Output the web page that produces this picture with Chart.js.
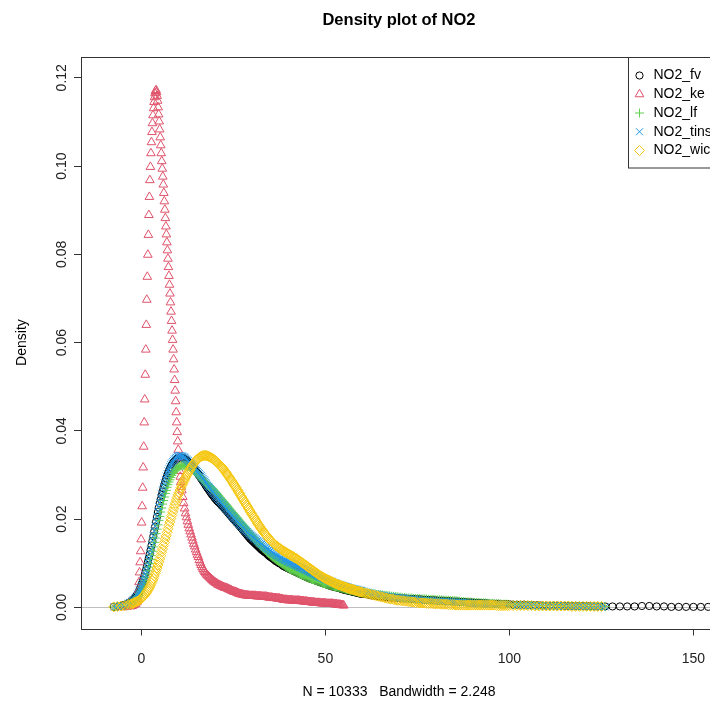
<!DOCTYPE html>
<html><head><meta charset="utf-8">
<script src="https://cdn.jsdelivr.net/npm/chart.js@4/dist/chart.umd.min.js"></script>
<style>
html,body{margin:0;padding:0;background:#fff;overflow:hidden}
#wrap{width:710px;height:704px;overflow:hidden;position:relative;background:#fff}
canvas{display:block}
</style></head>
<body><div id="wrap"><canvas id="c" width="724" height="704" style="width:724px;height:704px"></canvas></div>
<script>
const FONT = '"Liberation Sans", Arial, Helvetica, sans-serif';

const chartTitle = 'Density plot of NO2';
const xAxisTitle = 'N = 10333   Bandwidth = 2.248';
const yAxisTitle = 'Density';
const seriesNames = ['NO2_fv', 'NO2_ke', 'NO2_lf', 'NO2_tins', 'NO2_wic'];

const xTicks = [0, 50, 100, 150];
const xTickLabels = ['0', '50', '100', '150'];
const yTicks = [0, 0.02, 0.04, 0.06, 0.08, 0.10, 0.12];
const yTickLabels = ['0.00', '0.02', '0.04', '0.06', '0.08', '0.10', '0.12'];

// shared evaluation grid for NO2_fv, NO2_lf, NO2_tins, NO2_wic
const xGrid = [
 -9.5,-8.5,-7.5,-6.5,-5.5,-4.5,-3.5,-3,
 -2.5,-2.25,-2,-1.75,-1.5,-1.25,-1,-0.75,-0.5,-0.25,
 0,0.25,0.5,0.75,1,1.25,1.5,1.75,2,2.25,
 2.5,2.75,3,3.25,3.5,3.75,4,4.25,4.5,4.75,
 5,5.25,5.5,5.75,6,6.25,6.5,6.75,7,7.25,
 7.5,7.75,8,8.25,8.5,8.75,9,9.25,9.5,9.75,
 10,10.25,10.5,10.75,11,11.25,11.5,11.75,12,12.25,
 12.5,12.75,13,13.25,13.5,13.75,14,14.25,14.5,14.75,
 15,15.25,15.5,15.75,16,16.25,16.5,16.75,17,17.25,
 17.5,17.75,18,18.25,18.5,18.75,19,19.25,19.5,19.75,
 20,
 20.25,20.5,20.75,21,21.25,21.5,21.75,22,
 22.25,22.5,22.75,23,23.25,23.5,23.75,24,
 24.25,24.5,24.75,25,25.25,25.5,25.75,26,
 26.25,26.5,26.75,27,27.25,27.5,27.75,28,
 28.25,28.5,28.75,29,29.25,29.5,29.75,30,
 30.25,30.5,30.75,31,31.25,31.5,31.75,32,
 32.25,32.5,32.75,33,33.25,33.5,33.75,34,
 34.25,34.5,34.75,35,35.25,35.5,35.75,36,
 36.25,36.5,36.75,37,37.25,37.5,37.75,38,
 38.25,38.5,38.75,39,39.25,39.5,39.75,40,
 40.25,40.5,40.75,41,41.25,41.5,41.75,42,
 42.25,42.5,42.75,43,43.25,43.5,43.75,44,
 44.25,44.5,44.75,45,45.25,45.5,45.75,46,
 46.25,46.5,46.75,47,47.25,47.5,47.75,48,
 48.25,48.5,48.75,49,49.25,49.5,49.75,50,
 50.25,50.5,50.75,51,51.25,51.5,51.75,52,
 52.25,52.5,52.75,53,53.25,53.5,53.75,54,
 54.25,54.5,54.75,55,55.25,55.5,55.75,56,
 56.25,56.5,56.75,57,57.25,57.5,57.75,58,
 58.25,58.5,58.75,59,59.25,59.5,59.75,60,
 60.5,61,61.5,62,62.5,63,63.5,64,64.5,65,
 65.5,66,66.5,67,67.5,68,68.5,69,69.5,70,
 70.5,71,71.5,72,72.5,73,73.5,74,74.5,75,
 75.5,76,76.5,77,77.5,78,78.5,79,79.5,80,
 80.5,81,81.5,82,82.5,83,83.5,84,84.5,85,
 85.5,86,86.5,87,87.5,88,88.5,89,89.5,90,
 90.5,91,91.5,92,92.5,93,93.5,94,94.5,95,
 95.5,96,96.5,97,97.5,98,98.5,99,99.5,100,
 101,102,103,104,105,106,107,108,109,110,
 111,112,113,114,115,116,117,118,119,120,
 121,122,123,124,125,126,
 128,130,132,134,136,138,140,142,144,146,148,150,152,154,156
];

const fv = [
 null,null,0.0001,0.0002,0.0004,0.0006,0.0010,0.0012,
 0.0015,0.0017,0.0019,0.0021,0.0024,0.0027,0.0031,0.0035,0.0040,0.0045,
 0.0051,0.0056,0.0062,0.0069,0.0076,0.0084,0.0093,0.0102,0.0111,0.0120,
 0.0130,0.0140,0.0150,0.0161,0.0172,0.0183,0.0194,0.0205,0.0216,0.0226,
 0.0236,0.0245,0.0254,0.0262,0.0270,0.0278,0.0285,0.0292,0.0298,0.0304,
 0.0309,0.0314,0.0318,0.0322,0.0325,0.0328,0.0331,0.0333,0.0335,0.0337,
 0.0338,0.0339,0.0339,0.0339,0.0339,0.0339,0.0338,0.0337,0.0335,0.0334,
 0.0332,0.0330,0.0328,0.0326,0.0323,0.0321,0.0318,0.0315,0.0312,0.0310,
 0.0307,0.0304,0.0301,0.0298,0.0295,0.0292,0.0289,0.0286,0.0283,0.0280,
 0.0276,0.0273,0.0270,0.0267,0.0264,0.0261,0.0258,0.0255,0.0253,0.0250,
 0.0247,
 0.0245,0.0242,0.0240,0.0238,0.0236,0.0234,0.0231,0.0229,
 0.0227,0.0225,0.0222,0.0220,0.0218,0.0215,0.0213,0.0210,
 0.0208,0.0205,0.0203,0.0200,0.0198,0.0196,0.0193,0.0191,
 0.0189,0.0186,0.0184,0.0181,0.0179,0.0176,0.0174,0.0171,
 0.0169,0.0166,0.0164,0.0161,0.0159,0.0156,0.0154,0.0152,
 0.0150,0.0148,0.0146,0.0144,0.0142,0.0140,0.0138,0.0136,
 0.0134,0.0132,0.0130,0.0129,0.0127,0.0125,0.0124,0.0122,
 0.0120,0.0118,0.0116,0.0115,0.0113,0.0112,0.0110,0.0109,
 0.0107,0.0105,0.0104,0.0103,0.0101,0.0100,0.0099,0.0098,
 0.0096,0.0094,0.0093,0.0092,0.0091,0.0090,0.0089,0.0088,
 0.0087,0.0086,0.0085,0.0084,0.0083,0.0082,0.0081,0.0080,
 0.0079,0.0078,0.0077,0.0076,0.0075,0.0074,0.0073,0.0072,
 0.0071,0.0070,0.0069,0.0068,0.0067,0.0066,0.0066,0.0065,
 0.0064,0.0063,0.0063,0.0062,0.0061,0.0060,0.0060,0.0059,
 0.0058,0.0057,0.0057,0.0056,0.0055,0.0054,0.0054,0.0053,
 0.0052,0.0051,0.0051,0.0050,0.0049,0.0048,0.0048,0.0047,
 0.0047,0.0046,0.0046,0.0045,0.0045,0.0044,0.0044,0.0043,
 0.0042,0.0041,0.0041,0.0040,0.0040,0.0039,0.0039,0.0038,
 0.0038,0.0037,0.0037,0.0036,0.0036,0.0035,0.0035,0.0034,
 0.0034,0.0033,0.0033,0.0032,0.0032,0.0031,0.0031,0.0031,
 0.0030,0.0030,0.0029,0.0028,0.0027,0.0027,0.0026,0.0026,0.0025,0.0025,
 0.0024,0.0024,0.0023,0.0023,0.0022,0.0022,0.0022,0.0022,0.0021,0.0021,
 0.0020,0.0020,0.0020,0.0020,0.0019,0.0019,0.0019,0.0019,0.0018,0.0018,
 0.0018,0.0018,0.0017,0.0017,0.0017,0.0017,0.0016,0.0016,0.0016,0.0016,
 0.0015,0.0015,0.0015,0.0015,0.0014,0.0014,0.0014,0.0014,0.0013,0.0013,
 0.0013,0.0013,0.0012,0.0012,0.0012,0.0012,0.0011,0.0011,0.0011,0.0011,
 0.0010,0.0010,0.0010,0.0010,0.0009,0.0009,0.0009,0.0009,0.0008,0.0008,
 0.0008,0.0008,0.0008,0.0008,0.0007,0.0007,0.0007,0.0007,0.0007,0.0007,
 0.0006,0.0006,0.0006,0.0006,0.0005,0.0005,0.0005,0.0005,0.0004,0.0004,
 0.0004,0.0004,0.0004,0.0004,0.0003,0.0003,0.0003,0.0003,0.0003,0.0003,
 0.0003,0.0003,0.0002,0.0002,0.0002,0.0002,
 0.0002,0.0002,0.0002,0.0002,0.0003,0.0003,0.0002,0.0002,0.0001,0.0001,0.0001,0.0001,0.0001,0.0001,0.0001
];

const lf = [
 null,null,0.0001,0.0002,0.0003,0.0005,0.0008,0.0010,
 0.0012,0.0013,0.0015,0.0017,0.0019,0.0021,0.0024,0.0027,0.0031,0.0035,
 0.0039,0.0044,0.0049,0.0055,0.0061,0.0068,0.0075,0.0083,0.0091,0.0099,
 0.0108,0.0117,0.0127,0.0137,0.0147,0.0157,0.0167,0.0177,0.0187,0.0197,
 0.0206,0.0216,0.0225,0.0234,0.0242,0.0250,0.0258,0.0265,0.0272,0.0278,
 0.0284,0.0289,0.0294,0.0299,0.0303,0.0306,0.0309,0.0312,0.0314,0.0316,
 0.0318,0.0319,0.0320,0.0321,0.0322,0.0322,0.0322,0.0322,0.0322,0.0321,
 0.0320,0.0319,0.0318,0.0317,0.0315,0.0314,0.0312,0.0310,0.0308,0.0306,
 0.0304,0.0302,0.0300,0.0298,0.0296,0.0293,0.0291,0.0289,0.0287,0.0285,
 0.0282,0.0280,0.0277,0.0276,0.0274,0.0273,0.0271,0.0269,0.0267,0.0264,
 0.0262,
 0.0260,0.0258,0.0255,0.0253,0.0250,0.0248,0.0245,0.0243,
 0.0240,0.0238,0.0235,0.0233,0.0230,0.0228,0.0225,0.0223,
 0.0220,0.0218,0.0215,0.0213,0.0210,0.0208,0.0205,0.0203,
 0.0200,0.0198,0.0195,0.0193,0.0190,0.0188,0.0185,0.0183,
 0.0180,0.0178,0.0175,0.0173,0.0170,0.0168,0.0165,0.0163,
 0.0160,0.0158,0.0155,0.0153,0.0150,0.0148,0.0146,0.0144,
 0.0141,0.0139,0.0137,0.0135,0.0133,0.0131,0.0129,0.0127,
 0.0125,0.0123,0.0121,0.0119,0.0117,0.0115,0.0113,0.0112,
 0.0110,0.0109,0.0107,0.0106,0.0104,0.0103,0.0101,0.0100,
 0.0098,0.0097,0.0095,0.0094,0.0092,0.0091,0.0090,0.0089,
 0.0087,0.0086,0.0085,0.0084,0.0083,0.0082,0.0081,0.0080,
 0.0079,0.0078,0.0077,0.0076,0.0075,0.0074,0.0073,0.0072,
 0.0071,0.0070,0.0069,0.0068,0.0067,0.0066,0.0066,0.0065,
 0.0064,0.0063,0.0063,0.0062,0.0061,0.0060,0.0060,0.0059,
 0.0058,0.0057,0.0057,0.0056,0.0055,0.0054,0.0054,0.0053,
 0.0052,0.0051,0.0051,0.0050,0.0050,0.0049,0.0049,0.0048,
 0.0048,0.0047,0.0047,0.0046,0.0046,0.0045,0.0045,0.0044,
 0.0044,0.0043,0.0043,0.0042,0.0042,0.0041,0.0041,0.0040,
 0.0040,0.0039,0.0039,0.0038,0.0038,0.0037,0.0037,0.0036,
 0.0036,0.0035,0.0035,0.0035,0.0034,0.0034,0.0034,0.0033,
 0.0033,0.0032,0.0032,0.0031,0.0031,0.0030,0.0030,0.0029,0.0029,0.0028,
 0.0028,0.0027,0.0027,0.0026,0.0026,0.0025,0.0025,0.0024,0.0024,0.0023,
 0.0023,0.0022,0.0022,0.0021,0.0021,0.0021,0.0021,0.0020,0.0020,0.0020,
 0.0020,0.0019,0.0019,0.0019,0.0019,0.0018,0.0018,0.0018,0.0018,0.0017,
 0.0017,0.0017,0.0017,0.0016,0.0016,0.0016,0.0016,0.0015,0.0015,0.0015,
 0.0015,0.0014,0.0014,0.0013,0.0013,0.0012,0.0012,0.0012,0.0012,0.0011,
 0.0011,0.0011,0.0011,0.0010,0.0010,0.0010,0.0010,0.0009,0.0009,0.0009,
 0.0009,0.0008,0.0008,0.0008,0.0008,0.0007,0.0007,0.0007,0.0007,0.0006,
 0.0006,0.0006,0.0005,0.0005,0.0005,0.0005,0.0004,0.0004,0.0004,0.0004,
 0.0004,0.0004,0.0003,0.0003,0.0003,0.0003,0.0003,0.0003,0.0003,0.0003,
 0.0002,0.0002,0.0002,0.0002,0.0002,0.0002,
 null,null,null,null,null,null,null,null,null,null,null,null,null,null,null
];

const tins = [
 null,null,0.0001,0.0002,0.0003,0.0005,0.0009,0.0011,
 0.0014,0.0016,0.0018,0.0020,0.0023,0.0026,0.0030,0.0034,0.0039,0.0044,
 0.0049,0.0055,0.0061,0.0068,0.0075,0.0083,0.0092,0.0101,0.0110,0.0120,
 0.0130,0.0140,0.0151,0.0162,0.0173,0.0184,0.0195,0.0206,0.0217,0.0228,
 0.0238,0.0248,0.0257,0.0266,0.0274,0.0282,0.0290,0.0297,0.0303,0.0309,
 0.0314,0.0319,0.0323,0.0327,0.0330,0.0333,0.0336,0.0338,0.0340,0.0342,
 0.0343,0.0344,0.0344,0.0344,0.0343,0.0342,0.0341,0.0340,0.0338,0.0336,
 0.0334,0.0332,0.0330,0.0328,0.0325,0.0323,0.0320,0.0318,0.0315,0.0313,
 0.0310,0.0308,0.0305,0.0303,0.0300,0.0298,0.0295,0.0292,0.0289,0.0286,
 0.0283,0.0280,0.0277,0.0274,0.0272,0.0269,0.0266,0.0263,0.0261,0.0258,
 0.0255,
 0.0252,0.0250,0.0247,0.0244,0.0242,0.0239,0.0237,0.0234,
 0.0232,0.0229,0.0227,0.0224,0.0222,0.0219,0.0217,0.0214,
 0.0212,0.0209,0.0207,0.0204,0.0202,0.0200,0.0197,0.0195,
 0.0193,0.0190,0.0188,0.0186,0.0184,0.0181,0.0179,0.0177,
 0.0175,0.0173,0.0171,0.0169,0.0167,0.0165,0.0164,0.0162,
 0.0160,0.0158,0.0157,0.0155,0.0153,0.0151,0.0150,0.0148,
 0.0146,0.0144,0.0143,0.0141,0.0139,0.0137,0.0136,0.0134,
 0.0133,0.0131,0.0130,0.0128,0.0127,0.0125,0.0124,0.0122,
 0.0121,0.0119,0.0118,0.0117,0.0116,0.0114,0.0113,0.0112,
 0.0111,0.0109,0.0108,0.0107,0.0106,0.0105,0.0104,0.0103,
 0.0102,0.0101,0.0100,0.0099,0.0098,0.0097,0.0096,0.0095,
 0.0094,0.0093,0.0092,0.0091,0.0090,0.0089,0.0088,0.0087,
 0.0086,0.0085,0.0084,0.0083,0.0082,0.0081,0.0080,0.0079,
 0.0078,0.0077,0.0076,0.0075,0.0074,0.0073,0.0072,0.0071,
 0.0070,0.0069,0.0068,0.0067,0.0066,0.0065,0.0065,0.0064,
 0.0063,0.0062,0.0061,0.0060,0.0059,0.0058,0.0058,0.0057,
 0.0056,0.0055,0.0055,0.0054,0.0053,0.0052,0.0052,0.0051,
 0.0050,0.0049,0.0049,0.0048,0.0048,0.0047,0.0047,0.0046,
 0.0045,0.0044,0.0044,0.0043,0.0043,0.0042,0.0042,0.0041,
 0.0041,0.0040,0.0040,0.0039,0.0039,0.0038,0.0038,0.0037,
 0.0036,0.0035,0.0034,0.0033,0.0032,0.0031,0.0030,0.0030,0.0029,0.0028,
 0.0027,0.0027,0.0026,0.0025,0.0024,0.0024,0.0023,0.0023,0.0022,0.0022,
 0.0021,0.0021,0.0020,0.0020,0.0019,0.0019,0.0018,0.0018,0.0017,0.0017,
 0.0016,0.0016,0.0016,0.0016,0.0015,0.0015,0.0015,0.0015,0.0014,0.0014,
 0.0014,0.0014,0.0013,0.0013,0.0013,0.0013,0.0012,0.0012,0.0012,0.0012,
 0.0011,0.0011,0.0011,0.0011,0.0010,0.0010,0.0010,0.0010,0.0009,0.0009,
 0.0009,0.0009,0.0008,0.0008,0.0008,0.0008,0.0008,0.0008,0.0007,0.0007,
 0.0007,0.0007,0.0007,0.0007,0.0006,0.0006,0.0006,0.0006,0.0006,0.0006,
 0.0006,0.0005,0.0005,0.0005,0.0005,0.0004,0.0004,0.0004,0.0004,0.0004,
 0.0003,0.0003,0.0003,0.0003,0.0003,0.0003,0.0002,0.0002,0.0002,0.0002,
 0.0002,0.0002,0.0002,0.0002,0.0001,0.0001,
 null,null,null,null,null,null,null,null,null,null,null,null,null,null,null
];

const wic = [
 null,null,0.0001,0.0002,0.0003,0.0004,0.0006,0.0007,
 0.0008,0.0009,0.0010,0.0011,0.0012,0.0013,0.0014,0.0015,0.0017,0.0018,
 0.0020,0.0022,0.0024,0.0026,0.0029,0.0032,0.0035,0.0038,0.0042,0.0046,
 0.0050,0.0055,0.0060,0.0065,0.0071,0.0077,0.0083,0.0089,0.0096,0.0103,
 0.0110,0.0117,0.0125,0.0132,0.0140,0.0147,0.0155,0.0162,0.0170,0.0178,
 0.0186,0.0193,0.0201,0.0208,0.0216,0.0223,0.0230,0.0236,0.0243,0.0249,
 0.0255,0.0260,0.0266,0.0271,0.0276,0.0280,0.0285,0.0289,0.0294,0.0298,
 0.0302,0.0306,0.0310,0.0313,0.0317,0.0320,0.0323,0.0326,0.0329,0.0331,
 0.0334,0.0336,0.0338,0.0339,0.0341,0.0342,0.0343,0.0344,0.0344,0.0344,
 0.0344,0.0344,0.0343,0.0342,0.0341,0.0340,0.0339,0.0338,0.0336,0.0335,
 0.0333,
 0.0331,0.0329,0.0327,0.0325,0.0323,0.0321,0.0319,0.0316,
 0.0314,0.0311,0.0308,0.0305,0.0302,0.0299,0.0296,0.0293,
 0.0290,0.0287,0.0284,0.0280,0.0277,0.0274,0.0271,0.0267,
 0.0264,0.0260,0.0257,0.0253,0.0250,0.0246,0.0243,0.0239,
 0.0236,0.0232,0.0229,0.0225,0.0222,0.0218,0.0215,0.0211,
 0.0208,0.0205,0.0202,0.0198,0.0195,0.0191,0.0188,0.0185,
 0.0182,0.0179,0.0176,0.0173,0.0170,0.0167,0.0165,0.0162,
 0.0160,0.0157,0.0155,0.0152,0.0150,0.0148,0.0146,0.0144,
 0.0142,0.0140,0.0139,0.0137,0.0136,0.0134,0.0133,0.0131,
 0.0130,0.0128,0.0127,0.0126,0.0125,0.0123,0.0122,0.0121,
 0.0120,0.0118,0.0117,0.0116,0.0115,0.0113,0.0112,0.0111,
 0.0110,0.0108,0.0107,0.0105,0.0104,0.0102,0.0101,0.0099,
 0.0098,0.0096,0.0095,0.0093,0.0092,0.0090,0.0089,0.0087,
 0.0086,0.0084,0.0083,0.0081,0.0080,0.0078,0.0077,0.0075,
 0.0074,0.0072,0.0071,0.0070,0.0069,0.0067,0.0066,0.0065,
 0.0064,0.0063,0.0062,0.0061,0.0060,0.0059,0.0058,0.0057,
 0.0056,0.0055,0.0054,0.0053,0.0052,0.0051,0.0051,0.0050,
 0.0049,0.0048,0.0048,0.0047,0.0046,0.0045,0.0045,0.0044,
 0.0043,0.0042,0.0042,0.0041,0.0041,0.0040,0.0040,0.0039,
 0.0038,0.0037,0.0037,0.0036,0.0036,0.0035,0.0035,0.0034,
 0.0033,0.0032,0.0031,0.0030,0.0029,0.0028,0.0027,0.0026,0.0025,0.0024,
 0.0023,0.0022,0.0021,0.0020,0.0019,0.0019,0.0018,0.0017,0.0016,0.0016,
 0.0015,0.0015,0.0014,0.0014,0.0013,0.0013,0.0012,0.0012,0.0011,0.0011,
 0.0010,0.0010,0.0010,0.0010,0.0009,0.0009,0.0009,0.0009,0.0008,0.0008,
 0.0008,0.0008,0.0007,0.0007,0.0007,0.0007,0.0006,0.0006,0.0006,0.0006,
 0.0005,0.0005,0.0005,0.0005,0.0005,0.0005,0.0005,0.0005,0.0005,0.0005,
 0.0005,0.0005,0.0005,0.0005,0.0005,0.0005,0.0005,0.0005,0.0005,0.0005,
 0.0005,0.0005,0.0004,0.0004,0.0004,0.0004,0.0004,0.0004,0.0004,0.0004,
 0.0004,0.0004,0.0004,0.0004,0.0004,0.0004,0.0003,0.0003,0.0003,0.0003,
 0.0003,0.0003,0.0003,0.0003,0.0003,0.0003,0.0002,0.0002,0.0002,0.0002,
 0.0002,0.0002,0.0002,0.0002,0.0002,null,
 null,null,null,null,null,null,null,null,null,null,null,null,null,null,null
];

// NO2_ke has its own, much narrower grid
const keX = [
 -5,-4,-3,-2.5,-2,-1.5,-1.2,
 -0.90,-0.76,-0.62,-0.48,-0.34,-0.20,-0.06,0.08,0.22,0.36,
 0.50,0.64,0.78,0.92,1.06,1.20,1.34,1.48,1.62,1.76,
 1.90,2.04,2.18,2.32,2.46,2.60,2.74,2.88,3.02,3.16,
 3.30,3.44,3.58,3.72,3.86,
 4.00,4.14,4.28,4.42,4.56,4.70,4.84,4.98,5.12,5.26,
 5.40,5.54,5.68,5.82,5.96,6.10,6.24,6.38,6.52,6.66,
 6.80,6.94,7.08,7.22,7.36,7.50,7.64,7.78,7.92,8.06,
 8.20,8.34,8.48,8.62,8.76,8.90,9.04,9.18,9.32,9.46,
 9.60,9.74,9.88,10.02,10.16,10.30,10.44,10.58,10.72,10.86,
 11,11.25,11.5,11.75,12,12.25,12.5,12.75,13,13.25,
 13.5,13.75,14,14.25,14.5,14.75,15,15.25,15.5,15.75,
 16,16.25,16.5,16.75,17,17.25,17.5,17.75,18,18.25,
 18.5,18.75,19,19.25,19.5,19.75,20,
 20.25,20.5,20.75,21,21.25,21.5,21.75,22,
 22.25,22.5,22.75,23,23.25,23.5,23.75,24,
 24.25,24.5,24.75,25,25.25,25.5,25.75,26,
 26.25,26.5,26.75,27,27.25,27.5,27.75,28,
 28.25,28.5,28.75,29,29.25,29.5,29.75,30,
 30.25,30.5,30.75,31,31.25,31.5,31.75,32,
 32.25,32.5,32.75,33,33.25,33.5,33.75,34,
 34.25,34.5,34.75,35,35.25,35.5,35.75,36,
 36.25,36.5,36.75,37,37.25,37.5,37.75,38,
 38.25,38.5,38.75,39,39.25,39.5,39.75,40,
 40.25,40.5,40.75,41,41.25,41.5,41.75,42,
 42.25,42.5,42.75,43,43.25,43.5,43.75,44,
 44.25,44.5,44.75,45,45.25,45.5,45.75,46,
 46.25,46.5,46.75,47,47.25,47.5,47.75,48,
 48.25,48.5,48.75,49,49.25,49.5,49.75,50,
 50.25,50.5,50.75,51,51.25,51.5,51.75,52,
 52.25,52.5,52.75,53,53.25,53.5,53.75,54,
 54.25,54.5,54.75,55
];
const keY = [
 0.0000,0.0001,0.0002,0.0003,0.0005,0.0008,0.0012,
 0.0018,0.0038,0.0057,0.0079,0.0102,0.0127,0.0154,0.0192,0.0229,0.0271,
 0.0317,0.0364,0.0419,0.0471,0.0527,0.0584,0.0640,0.0697,0.0749,0.0799,
 0.0844,0.0889,0.0930,0.0968,0.0998,0.1029,0.1054,0.1077,0.1097,0.1115,
 0.1131,0.1145,0.1156,0.1165,0.1170,
 0.1172,0.1167,0.1159,0.1148,0.1133,0.1117,0.1101,0.1083,0.1065,0.1047,
 0.1029,0.1011,0.0994,0.0976,0.0958,0.0939,0.0920,0.0901,0.0882,0.0863,
 0.0845,0.0827,0.0809,0.0790,0.0771,0.0751,0.0731,0.0711,0.0691,0.0670,
 0.0649,0.0627,0.0606,0.0584,0.0562,0.0539,0.0515,0.0491,0.0467,0.0442,
 0.0419,0.0397,0.0376,0.0357,0.0340,0.0324,0.0309,0.0296,0.0284,0.0273,
 0.0265,0.0250,0.0236,0.0224,0.0213,0.0204,0.0195,0.0187,0.0179,0.0172,
 0.0165,0.0158,0.0151,0.0144,0.0138,0.0131,0.0125,0.0119,0.0114,0.0107,
 0.0101,0.0096,0.0091,0.0087,0.0083,0.0080,0.0077,0.0074,0.0072,0.0070,
 0.0068,0.0066,0.0064,0.0062,0.0060,0.0058,0.0057,
 0.0055,0.0054,0.0052,0.0051,0.0050,0.0049,0.0048,0.0047,
 0.0046,0.0045,0.0044,0.0044,0.0043,0.0042,0.0041,0.0040,
 0.0039,0.0038,0.0037,0.0036,0.0035,0.0035,0.0034,0.0033,
 0.0032,0.0031,0.0030,0.0030,0.0029,0.0029,0.0028,0.0028,
 0.0027,0.0027,0.0027,0.0027,0.0026,0.0026,0.0026,0.0026,
 0.0026,0.0026,0.0026,0.0026,0.0025,0.0025,0.0025,0.0025,
 0.0025,0.0025,0.0024,0.0024,0.0024,0.0024,0.0024,0.0024,
 0.0023,0.0023,0.0022,0.0022,0.0022,0.0022,0.0021,0.0021,
 0.0021,0.0021,0.0020,0.0020,0.0020,0.0020,0.0019,0.0019,
 0.0018,0.0018,0.0017,0.0017,0.0017,0.0017,0.0016,0.0016,
 0.0016,0.0016,0.0016,0.0016,0.0015,0.0015,0.0015,0.0015,
 0.0015,0.0015,0.0015,0.0015,0.0014,0.0014,0.0014,0.0014,
 0.0013,0.0013,0.0013,0.0013,0.0012,0.0012,0.0012,0.0012,
 0.0011,0.0011,0.0011,0.0011,0.0010,0.0010,0.0010,0.0010,
 0.0010,0.0010,0.0009,0.0009,0.0009,0.0009,0.0009,0.0009,
 0.0008,0.0008,0.0008,0.0008,0.0008,0.0008,0.0008,0.0008,
 0.0007,0.0007,0.0007,0.0007,0.0006,0.0006,0.0006,0.0006,
 0.0005,0.0005,0.0005,0.0004
];

function toPoints(xs, ys) {
  const out = [];
  const n = Math.min(xs.length, ys.length);
  for (let i = 0; i < n; i++) {
    if (ys[i] !== null && ys[i] !== undefined) out.push({ x: xs[i], y: ys[i] });
  }
  return out;
}

const styles = [
  { color: '#000000', pointStyle: 'circle',   radius: 3.6, order: 5 },
  { color: '#DF536B', pointStyle: 'triangle', radius: 5,   order: 4 },
  { color: '#61D04F', pointStyle: 'cross',    radius: 4.5, order: 3 },
  { color: '#2297E6', pointStyle: 'crossRot', radius: 5,   order: 2 },
  { color: '#F5C710', pointStyle: 'rectRot',  radius: 5,   order: 1 }
];
const seriesData = [
  toPoints(xGrid, fv),
  toPoints(keX, keY),
  toPoints(xGrid, lf),
  toPoints(xGrid, tins),
  toPoints(xGrid, wic)
];

const datasets = seriesNames.map((name, i) => ({
  label: name,
  data: seriesData[i],
  showLine: false,
  pointStyle: styles[i].pointStyle,
  pointRadius: styles[i].radius,
  pointBorderColor: styles[i].color,
  pointBackgroundColor: 'rgba(0,0,0,0)',
  pointBorderWidth: 1,
  order: styles[i].order
}));

const framePlugin = {
  id: 'rframe',
  beforeDatasetsDraw(chart) {
    const { ctx, chartArea: a, scales } = chart;
    const y0 = Math.round(scales.y.getPixelForValue(0)) + 0.5;
    ctx.save();
    ctx.strokeStyle = '#BEBEBE';
    ctx.lineWidth = 1;
    ctx.beginPath();
    ctx.moveTo(a.left, y0);
    ctx.lineTo(a.right, y0);
    ctx.stroke();
    ctx.restore();
  },
  afterDatasetsDraw(chart) {
    const { ctx, chartArea: a } = chart;
    ctx.save();
    ctx.strokeStyle = '#333';
    ctx.lineWidth = 1;
    const l = Math.round(a.left) + 0.5, t = Math.round(a.top) + 0.5;
    const r = Math.round(a.right) + 0.5, b = Math.round(a.bottom) + 0.5;
    ctx.strokeRect(l, t, r - l, b - t);
    ctx.restore();
  }
};

const legendPlugin = {
  id: 'rlegend',
  afterDraw(chart) {
    const { ctx, chartArea: a } = chart;
    const ds = chart.data.datasets;
    ctx.save();
    ctx.font = '14px ' + FONT;
    let maxW = 0;
    ds.forEach(d => { maxW = Math.max(maxW, ctx.measureText(d.label).width); });
    const rowH = 18.75;
    const w = maxW + 31;
    const h = rowH * (ds.length + 1) - 2;
    const x0 = Math.round(a.right - w) + 0.5;
    const y0 = Math.round(a.top) + 0.5;
    ctx.fillStyle = '#fff';
    ctx.fillRect(x0, y0, w, h);
    ctx.strokeStyle = '#333';
    ctx.lineWidth = 1;
    ctx.strokeRect(x0, y0, w, h);
    ds.forEach((d, i) => {
      const cy = y0 + 18 + i * rowH;
      ctx.strokeStyle = d.pointBorderColor;
      ctx.fillStyle = 'rgba(0,0,0,0)';
      ctx.lineWidth = 1;
      if (Chart.helpers && Chart.helpers.drawPoint) {
        Chart.helpers.drawPoint(ctx, { pointStyle: d.pointStyle, radius: d.pointRadius, borderWidth: 1, rotation: 0 }, x0 + 11, cy);
      }
      ctx.fillStyle = '#000';
      ctx.textAlign = 'left';
      ctx.textBaseline = 'middle';
      ctx.fillText(d.label, x0 + 25, cy);
    });
    ctx.restore();
  }
};

new Chart(document.getElementById('c'), {
  type: 'scatter',
  data: { datasets },
  plugins: [framePlugin, legendPlugin],
  options: {
    responsive: false,
    animation: false,
    events: [],
    devicePixelRatio: 1,
    layout: { padding: { left: 0, right: 7, top: 0, bottom: 0 } },
    plugins: {
      legend: { display: false },
      tooltip: { enabled: false },
      title: {
        display: true, text: chartTitle, fullSize: false, color: '#000',
        font: { family: FONT, size: 16.5, weight: 'bold' },
        padding: { top: 10.5, bottom: 26.3 }
      }
    },
    scales: {
      x: {
        type: 'linear', min: -16.4, max: 156.4,
        afterBuildTicks: s => { s.ticks = xTicks.map(v => ({ value: v })); },
        afterFit: s => { s.height = 75.5; },
        ticks: {
          autoSkip: false, maxRotation: 0, padding: 15, color: '#222',
          font: { family: FONT, size: 14 },
          callback: v => xTickLabels[xTicks.indexOf(v)]
        },
        grid: { drawOnChartArea: false, drawTicks: true, tickLength: 7, color: '#333', tickWidth: 1 },
        border: { display: false },
        title: {
          display: true, text: xAxisTitle, color: '#000',
          font: { family: FONT, size: 14 }, padding: { top: 0, bottom: 3.5 }
        }
      },
      y: {
        type: 'linear', min: -0.0048, max: 0.1248,
        afterBuildTicks: s => { s.ticks = yTicks.map(v => ({ value: v })); },
        afterFit: s => { s.width = 81; },
        ticks: {
          minRotation: 90, maxRotation: 90, crossAlign: 'center', padding: -1.5, color: '#222',
          font: { family: FONT, size: 14 },
          callback: v => yTickLabels[yTicks.indexOf(v)]
        },
        grid: { drawOnChartArea: false, drawTicks: true, tickLength: 7, color: '#333', tickWidth: 1 },
        border: { display: false },
        title: {
          display: true, text: yAxisTitle, color: '#000',
          font: { family: FONT, size: 14 }, padding: { top: 13.5, bottom: 0 }
        }
      }
    }
  }
});
</script>
</body></html>
